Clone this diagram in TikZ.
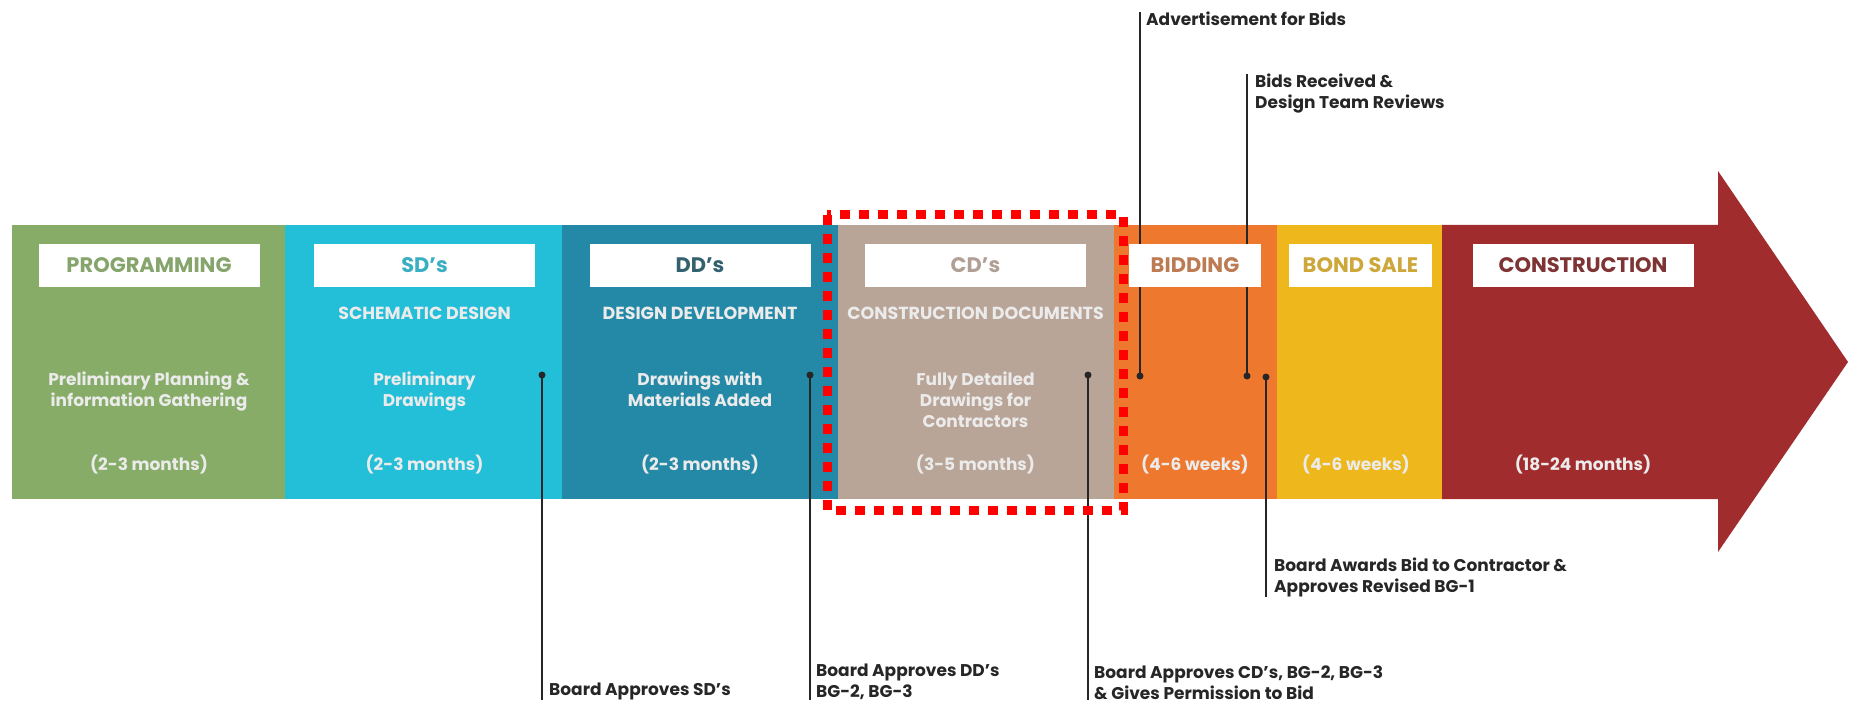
\documentclass[tikz,border=0pt]{standalone}
\usepackage{fontspec}
\setmainfont{Poppins}
\usetikzlibrary{positioning}

\definecolor{verde}{RGB}{135,172,104}
\definecolor{ciano}{RGB}{35,190,216}
\definecolor{petroleo}{RGB}{36,137,166}
\definecolor{areia}{RGB}{185,165,152}
\definecolor{laranja}{RGB}{238,120,46}
\definecolor{amarelo}{RGB}{238,184,28}
\definecolor{vinho}{RGB}{160,44,46}

\tikzset{
  caixa/.style={fill=white,inner sep=0,minimum width=221,minimum height=43,
    font=\fontsize{21}{23}\selectfont\bfseries},
  titulo/.style={text=white!92!black,inner sep=0,font=\fontsize{17.5}{19}\selectfont\bfseries},
  descr/.style={text=white!92!black,inner sep=0,align=center,anchor=north,
    font=\fontsize{17}{21}\selectfont\bfseries},
  prazo/.style={text=white!92!black,inner sep=0,font=\fontsize{17}{20}\selectfont\bfseries},
  nota/.style={text=black!85,inner sep=0,align=left,font=\fontsize{17}{21}\selectfont\bfseries},
  marco/.style={line width=2pt,black!85}
}

\begin{document}
\begin{tikzpicture}[x=1pt,y=-1pt]
	\useasboundingbox (0,0) rectangle (1850,703);
	%faixas
	\fill[verde] (12,225) rectangle (286,499);
	\fill[ciano] (285,225) rectangle (563,499);
	\fill[petroleo] (562,225) rectangle (839,499);
	\fill[areia] (838,225) rectangle (1115,499);
	\fill[laranja] (1114,225) rectangle (1278,499);
	\fill[amarelo] (1277,225) rectangle (1443,499);
	\fill[vinho] (1442,225) -- (1718,225) -- (1718,171) -- (1848,362)
		-- (1718,552) -- (1718,499) -- (1442,499) -- cycle;
	%marcos
	\coordinate (msd) at (542,375);
	\coordinate (mdd) at (810,375);
	\coordinate (mcd) at (1088,375);
	\coordinate (madv) at (1140,376);
	\coordinate (mrec) at (1247,376);
	\coordinate (maw) at (1266,377);
	\node[nota,anchor=south west] (nsd) at (549,700) {Board Approves SD's};
	\node[nota,anchor=south west] (ndd) at (816,700) {Board Approves DD's\\BG-2, BG-3};
	\node[nota,anchor=south west] (ncd) at (1094,700) {Board Approves CD's, BG-2, BG-3\\\& Gives Permission to Bid};
	\node[nota,anchor=north west] (nadv) at (1146,12) {Advertisement for Bids};
	\node[nota,anchor=north west] (nrec) at (1255,74) {Bids Received \&\\Design Team Reviews};
	\node[nota,anchor=south west] (naw) at (1274,597) {Board Awards Bid to Contractor \&\\Approves Revised BG-1};
	\draw[marco] (msd) -- (msd |- nsd.south);
	\draw[marco] (mdd) -- (mdd |- ndd.south);
	\draw[marco] (mcd) -- (mcd |- ncd.south);
	\draw[marco] (madv) -- (madv |- nadv.north);
	\draw[marco] (mrec) -- (mrec |- nrec.north);
	\draw[marco] (maw) -- (maw |- naw.south);
	\foreach \m in {msd,mdd,mcd,madv,mrec,maw}
		\fill[black!85] (\m) circle (3.5);
	%programming
	\node[caixa,text=verde!85!gray] (prog) at (149,265.5) {PROGRAMMING};
	\node[descr] (dprog) at (149,372) {Preliminary Planning \&\\information Gathering};
	\node[prazo] (tprog) at (149,465) {(2-3 months)};
	%sd
	\node[caixa,text=ciano!75!gray] (sd) at (424.5,265.5) {SD's};
	\node[titulo] (ssd) at (424.5,313) {SCHEMATIC DESIGN};
	\node[descr] (dsd) at (424.5,372) {Preliminary\\Drawings};
	\node[prazo] (tsd) at (424.5,465) {(2-3 months)};
	%dd
	\node[caixa,text=petroleo!45!darkgray] (dd) at (700,265.5) {DD's};
	\node[titulo] (sdd) at (700,313) {DESIGN DEVELOPMENT};
	\node[descr] (ddd) at (700,372) {Drawings with\\Materials Added};
	\node[prazo] (tdd) at (700,465) {(2-3 months)};
	%cd
	\node[caixa,text=areia!85!gray] (cd) at (975.5,265.5) {CD's};
	\node[titulo] (scd) at (975.5,313) {CONSTRUCTION DOCUMENTS};
	\node[descr] (dcd) at (975.5,372) {Fully Detailed\\Drawings for\\Contractors};
	\node[prazo] (tcd) at (975.5,465) {(3-5 months)};
	%bidding, bond sale, construction
	\node[caixa,minimum width=132,text=laranja!55!gray] (bid) at (1195,265.5) {BIDDING};
	\node[prazo] (tbid) at (1195,465) {(4-6 weeks)};
	\node[caixa,minimum width=143,text=amarelo!70!gray] (bond) at (1360.5,265.5) {BOND SALE};
	\node[prazo] (tbond) at (1356,465) {(4-6 weeks)};
	\node[caixa,text=vinho!65!darkgray] (cons) at (1583,265.5) {CONSTRUCTION};
	\node[prazo] (tcons) at (1583,465) {(18-24 months)};
	%destaque
	\draw[red,line width=9,dash pattern=on 10 off 9] (827,215) rectangle (1123,510);
\end{tikzpicture}
\end{document}
